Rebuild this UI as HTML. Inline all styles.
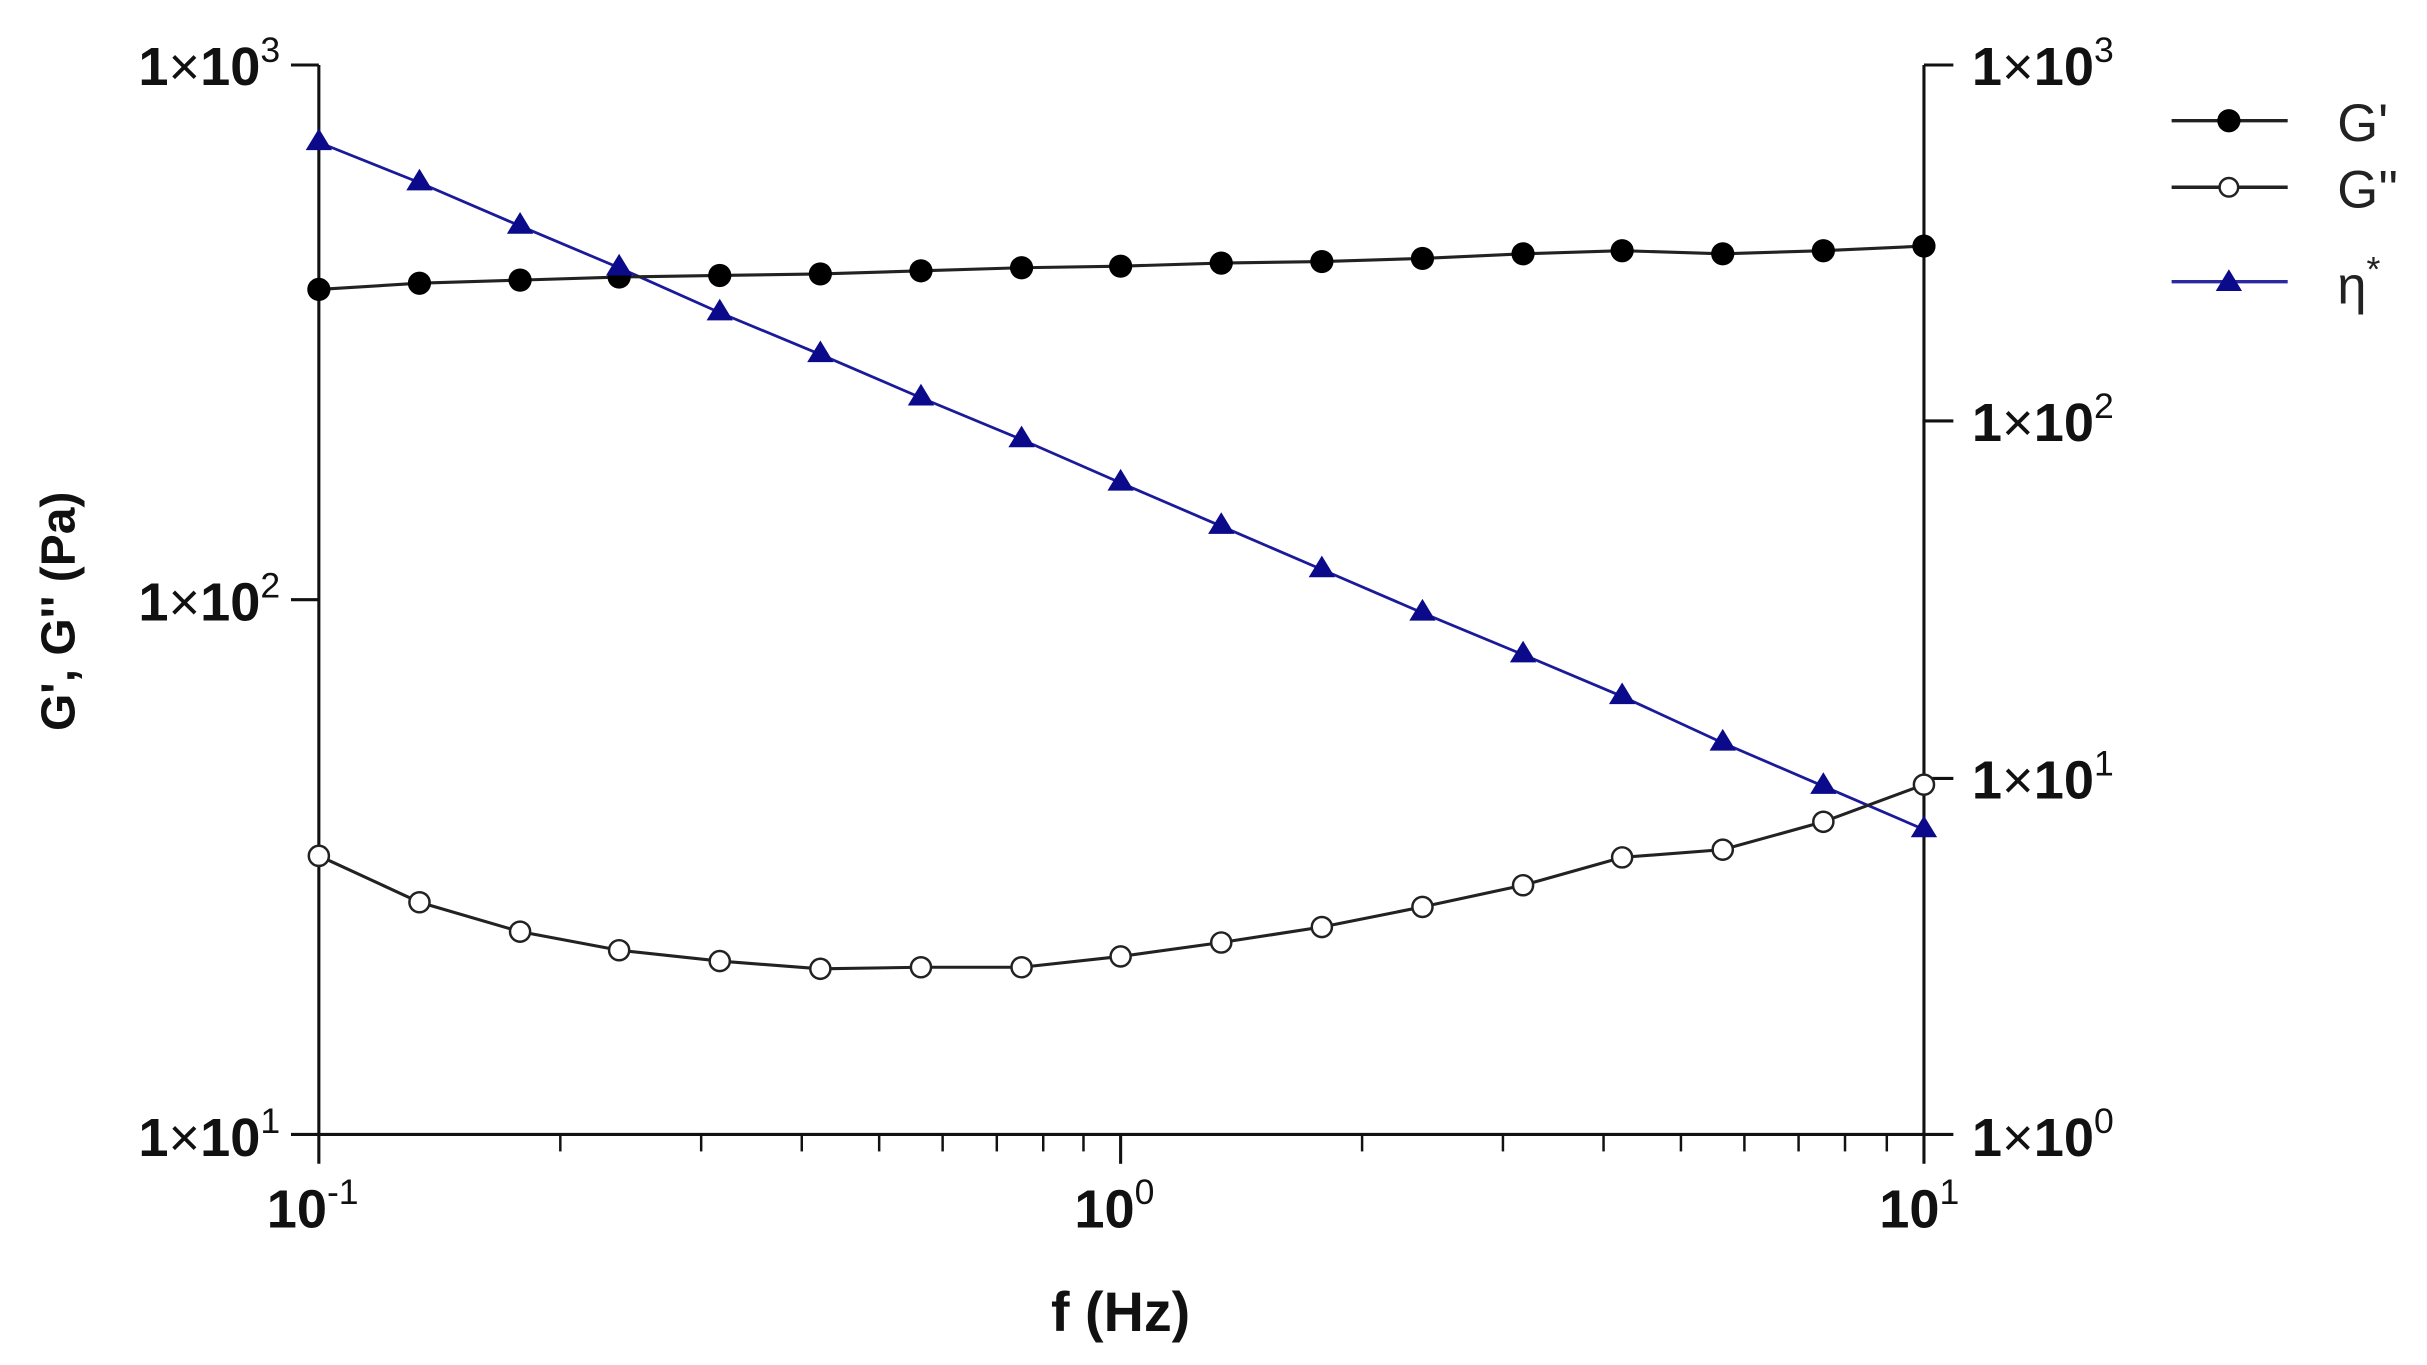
<!DOCTYPE html>
<html><head><meta charset="utf-8"><style>html,body{margin:0;padding:0;background:#fff;}svg{display:block}</style></head>
<body>
<svg width="2427" height="1365" viewBox="0 0 1568 882" preserveAspectRatio="none" xmlns="http://www.w3.org/2000/svg" font-family="Liberation Sans, Arial, sans-serif">
<rect width="1568" height="882" fill="#fff"/>
<g stroke="#111" stroke-width="2" fill="none">
<line x1="206" y1="42" x2="206" y2="752"/>
<line x1="1243" y1="42" x2="1243" y2="752"/>
<line x1="188" y1="733" x2="1262" y2="733"/>
<line x1="188" y1="42" x2="206" y2="42"/>
<line x1="188" y1="387.5" x2="206" y2="387.5"/>
<line x1="1243" y1="42" x2="1262" y2="42"/>
<line x1="1243" y1="272" x2="1262" y2="272"/>
<line x1="1243" y1="503" x2="1262" y2="503"/>
<line x1="724" y1="733" x2="724" y2="752"/>
</g>
<g stroke="#111" stroke-width="1.6">
<line x1="362" y1="733" x2="362" y2="744"/><line x1="453" y1="733" x2="453" y2="744"/><line x1="518" y1="733" x2="518" y2="744"/><line x1="568" y1="733" x2="568" y2="744"/><line x1="609" y1="733" x2="609" y2="744"/><line x1="644" y1="733" x2="644" y2="744"/><line x1="674" y1="733" x2="674" y2="744"/><line x1="700" y1="733" x2="700" y2="744"/>
<line x1="880" y1="733" x2="880" y2="744"/><line x1="971" y1="733" x2="971" y2="744"/><line x1="1036" y1="733" x2="1036" y2="744"/><line x1="1086" y1="733" x2="1086" y2="744"/><line x1="1127" y1="733" x2="1127" y2="744"/><line x1="1162" y1="733" x2="1162" y2="744"/><line x1="1192" y1="733" x2="1192" y2="744"/><line x1="1219" y1="733" x2="1219" y2="744"/>
</g>
<g font-weight="bold" font-size="35" fill="#111">
<text x="181" y="55" text-anchor="end">1<tspan font-weight="normal">×</tspan>10<tspan font-size="23" font-weight="normal" dy="-15">3</tspan></text>
<text x="181" y="401" text-anchor="end">1<tspan font-weight="normal">×</tspan>10<tspan font-size="23" font-weight="normal" dy="-15">2</tspan></text>
<text x="181" y="747" text-anchor="end">1<tspan font-weight="normal">×</tspan>10<tspan font-size="23" font-weight="normal" dy="-15">1</tspan></text>
<text x="1274" y="55">1<tspan font-weight="normal">×</tspan>10<tspan font-size="23" font-weight="normal" dy="-15">3</tspan></text>
<text x="1274" y="285">1<tspan font-weight="normal">×</tspan>10<tspan font-size="23" font-weight="normal" dy="-15">2</tspan></text>
<text x="1274" y="516">1<tspan font-weight="normal">×</tspan>10<tspan font-size="23" font-weight="normal" dy="-15">1</tspan></text>
<text x="1274" y="747">1<tspan font-weight="normal">×</tspan>10<tspan font-size="23" font-weight="normal" dy="-15">0</tspan></text>
<text x="202" y="793" text-anchor="middle">10<tspan font-size="23" font-weight="normal" dy="-15">-1</tspan></text>
<text x="720" y="793" text-anchor="middle">10<tspan font-size="23" font-weight="normal" dy="-15">0</tspan></text>
<text x="1240" y="793" text-anchor="middle">10<tspan font-size="23" font-weight="normal" dy="-15">1</tspan></text>
<text x="724" y="860" text-anchor="middle" font-size="36">f (Hz)</text>
<text transform="translate(48,395) rotate(-90)" text-anchor="middle" font-size="31">G', G'' (Pa)</text>
</g>
<polyline fill="none" stroke="#1a1a9a" stroke-width="1.8" points="206,92 271,118 336,146 400,173 465,202 530,229 595,257 660,284 724,312 789,340 854,368 919,396 984,423 1048,450 1113,480 1178,508 1243,536"/>
<polyline fill="none" stroke="#222" stroke-width="2" points="206,187 271,183 336,181 400,179 465,178 530,177 595,175 660,173 724,172 789,170 854,169 919,167 984,164 1048,162 1113,164 1178,162 1243,159"/>
<polyline fill="none" stroke="#222" stroke-width="2" points="206,553 271,583 336,602 400,614 465,621 530,626 595,625 660,625 724,618 789,609 854,599 919,586 984,572 1048,554 1113,549 1178,531 1243,507"/>
<g fill="#000">
<circle cx="206" cy="187" r="7.5"/><circle cx="271" cy="183" r="7.5"/><circle cx="336" cy="181" r="7.5"/><circle cx="400" cy="179" r="7.5"/><circle cx="465" cy="178" r="7.5"/><circle cx="530" cy="177" r="7.5"/><circle cx="595" cy="175" r="7.5"/><circle cx="660" cy="173" r="7.5"/><circle cx="724" cy="172" r="7.5"/><circle cx="789" cy="170" r="7.5"/><circle cx="854" cy="169" r="7.5"/><circle cx="919" cy="167" r="7.5"/><circle cx="984" cy="164" r="7.5"/><circle cx="1048" cy="162" r="7.5"/><circle cx="1113" cy="164" r="7.5"/><circle cx="1178" cy="162" r="7.5"/><circle cx="1243" cy="159" r="7.5"/>
</g>
<g fill="#fff" stroke="#222" stroke-width="1.6">
<circle cx="206" cy="553" r="6.5"/><circle cx="271" cy="583" r="6.5"/><circle cx="336" cy="602" r="6.5"/><circle cx="400" cy="614" r="6.5"/><circle cx="465" cy="621" r="6.5"/><circle cx="530" cy="626" r="6.5"/><circle cx="595" cy="625" r="6.5"/><circle cx="660" cy="625" r="6.5"/><circle cx="724" cy="618" r="6.5"/><circle cx="789" cy="609" r="6.5"/><circle cx="854" cy="599" r="6.5"/><circle cx="919" cy="586" r="6.5"/><circle cx="984" cy="572" r="6.5"/><circle cx="1048" cy="554" r="6.5"/><circle cx="1113" cy="549" r="6.5"/><circle cx="1178" cy="531" r="6.5"/><circle cx="1243" cy="507" r="6.5"/>
</g>
<g fill="#0a0a8a">
<path d="M206,83 l8.5,14 h-17z"/>
<path d="M271,109 l8.5,14 h-17z"/><path d="M336,137 l8.5,14 h-17z"/><path d="M400,164 l8.5,14 h-17z"/><path d="M465,193 l8.5,14 h-17z"/><path d="M530,220 l8.5,14 h-17z"/><path d="M595,248 l8.5,14 h-17z"/><path d="M660,275 l8.5,14 h-17z"/><path d="M724,303 l8.5,14 h-17z"/><path d="M789,331 l8.5,14 h-17z"/><path d="M854,359 l8.5,14 h-17z"/><path d="M919,387 l8.5,14 h-17z"/><path d="M984,414 l8.5,14 h-17z"/><path d="M1048,441 l8.5,14 h-17z"/><path d="M1113,471 l8.5,14 h-17z"/><path d="M1178,499 l8.5,14 h-17z"/><path d="M1243,527 l8.5,14 h-17z"/>
</g>
<g stroke-width="2.2">
<line x1="1403" y1="78" x2="1478" y2="78" stroke="#222"/>
<line x1="1403" y1="121" x2="1478" y2="121" stroke="#222"/>
<line x1="1403" y1="182" x2="1478" y2="182" stroke="#2a2aa0"/>
</g>
<circle cx="1440" cy="78" r="7.5" fill="#000"/>
<circle cx="1440" cy="121" r="6" fill="#fff" stroke="#222" stroke-width="1.6"/>
<path d="M1440,174 l8.5,14 h-17z" fill="#0a0a8a"/>
<g font-size="34" fill="#222">
<text x="1510" y="91">G'</text>
<text x="1510" y="134">G''</text>
<text x="1510" y="196">η<tspan font-size="23" dy="-14">*</tspan></text>
</g>
</svg>
</body></html>
